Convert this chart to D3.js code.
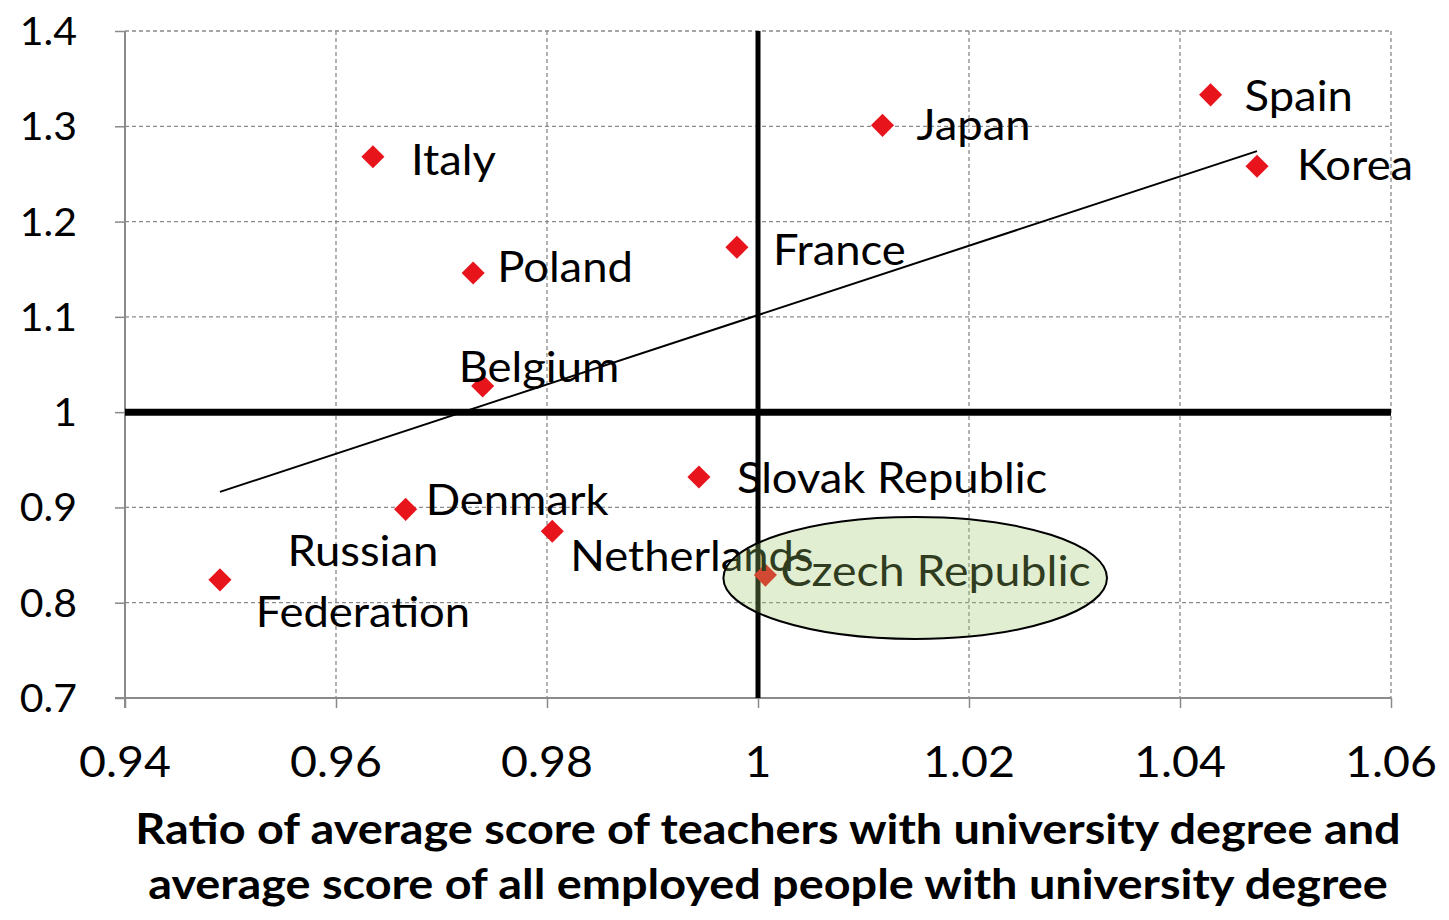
<!DOCTYPE html>
<html>
<head>
<meta charset="utf-8">
<script src="https://cdn.jsdelivr.net/npm/d3@7/dist/d3.min.js"></script>
<style>
  html, body { margin: 0; padding: 0; background: #fff; }
  svg { display: block; }
  text { font-family: Lato, "Open Sans", sans-serif; fill: #000; }
</style>
</head>
<body>
<svg id="chart" width="1449" height="920"></svg>
<script>
// ---- data ----
const countries = ["Russian Federation", "Italy", "Poland", "Belgium", "Denmark", "Netherlands",
                   "Slovak Republic", "France", "Czech Republic", "Japan", "Spain", "Korea"];
const ratioX = [0.9490, 0.9635, 0.9730, 0.9739, 0.9666, 0.9805, 0.9944, 0.9980, 1.0007, 1.0118, 1.0429, 1.0473];
const ratioY = [0.824, 1.268, 1.146, 1.0275, 0.898, 0.875, 0.932, 1.173, 0.829, 1.301, 1.333, 1.258];
const xTicks = [0.94, 0.96, 0.98, 1, 1.02, 1.04, 1.06];
const yTicks = [0.7, 0.8, 0.9, 1, 1.1, 1.2, 1.3, 1.4];
const xTitle = ["Ratio of average score of teachers with university degree and",
                "average score of all employed people with university degree"];
const highlight = { name: "Czech Republic", cx: 1.0149, cy: 0.826, rx: 0.01818, ry: 0.064 };

// ---- label placement (pixels relative to marker) ----
const labelPlace = {
  "Russian Federation": { lines: ["Russian", "Federation"], dx: 143, dy: [-14, 47], anchor: "middle" },
  "Italy": { dx: 38, dy: [18] },
  "Poland": { dx: 24, dy: [9] },
  "Belgium": { dx: -24, dy: [-4] },
  "Denmark": { dx: 20, dy: [6] },
  "Netherlands": { dx: 18, dy: [40] },
  "Slovak Republic": { dx: 38, dy: [16] },
  "France": { dx: 36, dy: [18] },
  "Czech Republic": { dx: 15, dy: [11] },
  "Japan": { dx: 34, dy: [15] },
  "Spain": { dx: 34, dy: [16] },
  "Korea": { dx: 40, dy: [14] }
};

const svg = d3.select("#chart");
const M = { left: 125, right: 1391, top: 31, bottom: 698 };
const x = d3.scaleLinear().domain([0.94, 1.06]).range([M.left, M.right]);
const y = d3.scaleLinear().domain([0.7, 1.4]).range([M.bottom, M.top]);

const data = countries.map((c, i) => ({ name: c, x: ratioX[i], y: ratioY[i] }));

// stretched text helper
function stretchText(g, tx, ty, str, size, sx, anchor, weight) {
  return g.append("text")
    .attr("transform", `translate(${tx},${ty}) scale(${sx},1)`)
    .attr("text-anchor", anchor || "start")
    .style("font-size", size + "px")
    .style("font-weight", weight || "normal")
    .text(str);
}

// grid
const grid = svg.append("g");
grid.selectAll("line.hg").data(yTicks.filter(d => d !== 0.7)).join("line")
  .attr("x1", M.left).attr("x2", M.right)
  .attr("y1", d => y(d)).attr("y2", d => y(d))
  .attr("stroke", "#8a8a8a").attr("stroke-width", 1.3).attr("stroke-dasharray", "4,3");
grid.selectAll("line.vg").data(xTicks.filter(d => d !== 0.94)).join("line")
  .attr("y1", M.top).attr("y2", M.bottom)
  .attr("x1", d => x(d)).attr("x2", d => x(d))
  .attr("stroke", "#8a8a8a").attr("stroke-width", 1.3).attr("stroke-dasharray", "4,3");

// axes (lines via d3 axis, labels drawn stretched)
const xAxis = d3.axisBottom(x).tickValues(xTicks).tickSize(10).tickFormat("");
const gx = svg.append("g").attr("transform", `translate(0,${M.bottom})`).call(xAxis);
gx.select(".domain").attr("stroke", "#8a8a8a").attr("stroke-width", 2).attr("d", `M${M.left - 10},0H${M.right}`);
gx.selectAll(".tick line").attr("stroke", "#8a8a8a").attr("stroke-width", 1.5);
const xl = svg.append("g");
xTicks.forEach(t => stretchText(xl, x(t), 777, String(+t.toFixed(2)), 43, 1.08, "middle"));

const yAxis = d3.axisLeft(y).tickValues(yTicks).tickSize(10).tickFormat("");
const gy = svg.append("g").attr("transform", `translate(${M.left},0)`).call(yAxis);
gy.select(".domain").attr("stroke", "#8a8a8a").attr("stroke-width", 2).attr("d", `M0,${M.top}V${M.bottom + 10}`);
gy.selectAll(".tick line").attr("stroke", "#8a8a8a").attr("stroke-width", 1.5);
const yl = svg.append("g");
yTicks.forEach(t => stretchText(yl, 77, y(t) + 14, String(+t.toFixed(1)), 39, 1.05, "end"));

// thick reference lines at 1
svg.append("line").attr("x1", x(0.94)).attr("x2", x(1.06)).attr("y1", y(1)).attr("y2", y(1))
  .attr("stroke", "#000").attr("stroke-width", 7);
svg.append("line").attr("x1", x(1)).attr("x2", x(1)).attr("y1", y(1.4)).attr("y2", y(0.7))
  .attr("stroke", "#000").attr("stroke-width", 5);

// linear trendline (least squares)
const mx = d3.mean(ratioX), my = d3.mean(ratioY);
const slope = d3.sum(ratioX.map((v, i) => (v - mx) * (ratioY[i] - my))) / d3.sum(ratioX.map(v => (v - mx) ** 2));
const icpt = my - slope * mx;
const [xmin, xmax] = d3.extent(ratioX);
svg.append("line")
  .attr("x1", x(xmin)).attr("y1", y(icpt + slope * xmin))
  .attr("x2", x(xmax)).attr("y2", y(icpt + slope * xmax))
  .attr("stroke", "#000").attr("stroke-width", 2);

// markers
const diamond = d3.symbol().type(d3.symbolDiamond2).size(340);
svg.append("g").selectAll("path").data(data).join("path")
  .attr("d", diamond)
  .attr("transform", d => `translate(${x(d.x)},${y(d.y)})`)
  .attr("fill", "#e8141c");

// labels
const lg = svg.append("g");
data.forEach(d => {
  const p = labelPlace[d.name];
  const lines = p.lines || [d.name];
  lines.forEach((ln, k) => {
    stretchText(lg, x(d.x) + p.dx, y(d.y) + p.dy[k], ln,
      d.name === highlight.name ? 43 : 42, 1.08, p.anchor || "start");
  });
});

// highlight ellipse (semi-transparent, on top)
svg.append("ellipse")
  .attr("cx", x(highlight.cx)).attr("cy", y(highlight.cy))
  .attr("rx", x(highlight.cx + highlight.rx) - x(highlight.cx))
  .attr("ry", y(highlight.cy - highlight.ry) - y(highlight.cy))
  .attr("fill", "#9cc86a").attr("fill-opacity", 0.3)
  .attr("stroke", "#000").attr("stroke-width", 2);

// axis title
const tg = svg.append("g");
xTitle.forEach((t, i) => stretchText(tg, 768, 844 + i * 55, t, 42, 1.115, "middle", "bold"));
</script>
</body>
</html>
